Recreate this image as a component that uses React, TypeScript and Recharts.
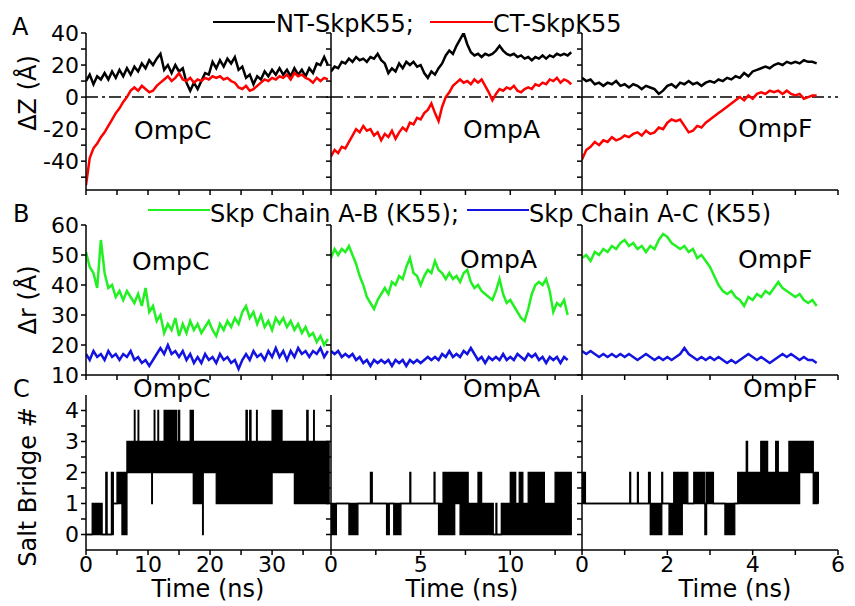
import React from 'react';
import { ComposedChart, Line, Area, XAxis, YAxis, ReferenceLine } from 'recharts';

const FONT = '"DejaVu Sans", Verdana, sans-serif';

// sampling interval (ns) of the traces in each column
const ompcStep = 0.6;
const ompaStep = 0.2;
const ompfStep = 0.1;

// A: dZ (Å)
const ompcNT = [10, 14, 8, 13, 11, 15, 11, 16, 12, 17, 13, 18, 14, 19, 16, 21, 18, 23, 20, 24, 27, 17, 20, 15, 20, 16, 18, 9, 4, 9, 5, 10, 15, 14, 22, 18, 23, 19, 24, 21, 25, 17, 19, 12, 14, 8, 13, 11, 16, 13, 17, 14, 18, 14, 17, 13, 18, 14, 17, 13, 18, 15, 21, 20, 25, 20];
const ompcCT = [-55, -38, -32, -29, -25, -22, -18, -14, -10, -7, -3, 0, 4, 6, 4, 7, 5, 3, 4, 7, 9, 11, 13, 10, 12, 15, 11, 10, 12, 9, 11, 10, 12, 11, 13, 12, 13, 11, 12, 10, 9, 6, 5, 7, 4, 5, 7, 9, 11, 10, 12, 11, 13, 12, 14, 11, 15, 13, 14, 12, 11, 9, 12, 10, 12, 11];
const ompaNT = [16, 19, 18, 22, 21, 24, 22, 25, 23, 24, 22, 25, 24, 27, 23, 21, 15, 18, 16, 21, 18, 22, 20, 22, 19, 20, 15, 12, 16, 14, 18, 21, 26, 29, 27, 32, 36, 40, 33, 28, 26, 27, 25, 27, 26, 27, 29, 32, 29, 27, 26, 27, 25, 26, 24, 25, 23, 25, 24, 26, 24, 26, 25, 27, 26, 27, 26, 28];
const ompaCT = [-37, -33, -35, -31, -32, -28, -24, -20, -22, -18, -21, -20, -24, -22, -27, -23, -25, -21, -26, -22, -19, -21, -16, -17, -13, -14, -10, -8, -4, -10, -15, -6, 0, 3, 7, 9, 11, 9, 10, 8, 11, 9, 11, 7, 3, -2, 2, 5, 4, 6, 5, 7, 4, 3, 5, 6, 5, 8, 7, 9, 8, 11, 10, 12, 9, 11, 10, 8];
const ompfNT = [12, 10, 11, 8, 9, 7, 9, 8, 10, 7, 8, 6, 8, 7, 5, 7, 6, 5, 2, 4, 7, 8, 6, 9, 8, 10, 8, 9, 7, 9, 10, 9, 11, 10, 12, 11, 13, 12, 15, 13, 16, 17, 18, 19, 18, 20, 21, 20, 22, 21, 22, 21, 23, 22, 22, 21];
const ompfCT = [-39, -33, -31, -28, -30, -27, -28, -25, -27, -26, -24, -25, -23, -22, -24, -21, -23, -22, -19, -20, -16, -14, -15, -14, -18, -22, -21, -18, -19, -16, -14, -12, -10, -8, -6, -4, -2, 0, -2, 1, -1, 2, 3, 2, 4, 3, 4, 2, 4, 2, 1, 2, -1, 0, 1, 1];

// B: dr (Å)
const ompcAB = [51, 46, 44, 39, 55, 44, 39, 40, 36, 38, 35, 38, 36, 34, 37, 33, 39, 31, 33, 28, 30, 24, 27, 25, 29, 23, 27, 24, 28, 25, 27, 24, 26, 28, 25, 23, 27, 25, 28, 26, 29, 27, 31, 33, 29, 31, 27, 30, 26, 28, 25, 29, 27, 29, 26, 28, 25, 27, 24, 26, 23, 24, 21, 23, 20, 22];
const ompcAC = [17, 15, 18, 16, 17, 15, 18, 16, 17, 15, 17, 16, 18, 15, 16, 14, 15, 13, 15, 17, 19, 17, 20, 17, 18, 16, 18, 15, 17, 14, 16, 14, 17, 15, 16, 14, 17, 15, 16, 14, 15, 12, 15, 17, 15, 18, 16, 17, 15, 18, 16, 19, 16, 18, 15, 18, 16, 19, 17, 18, 16, 18, 17, 19, 16, 18];
const ompaAB = [49, 52, 50, 52, 51, 53, 50, 47, 43, 40, 36, 34, 32, 35, 37, 39, 37, 41, 40, 43, 42, 46, 49, 44, 43, 40, 43, 45, 44, 48, 45, 44, 42, 44, 42, 43, 41, 44, 45, 41, 39, 40, 38, 37, 36, 35, 38, 42, 37, 34, 35, 33, 31, 29, 28, 32, 37, 40, 41, 40, 42, 38, 31, 34, 33, 35, 30];
const ompaAC = [18, 17, 18, 16, 17, 16, 17, 15, 16, 14, 15, 13, 15, 14, 15, 14, 15, 13, 15, 14, 15, 13, 15, 14, 15, 14, 15, 16, 15, 16, 15, 17, 16, 18, 16, 17, 16, 18, 17, 19, 17, 15, 16, 14, 16, 15, 16, 15, 17, 15, 16, 15, 17, 16, 15, 17, 16, 17, 15, 16, 14, 16, 15, 16, 14, 16, 15];
const ompfAB = [49, 50, 48, 51, 50, 52, 51, 53, 52, 54, 55, 53, 54, 52, 53, 51, 53, 52, 55, 57, 56, 54, 53, 52, 53, 51, 52, 49, 50, 48, 46, 43, 40, 38, 37, 38, 36, 35, 33, 36, 35, 37, 36, 38, 37, 39, 41, 39, 38, 37, 36, 37, 35, 34, 35, 33];
const ompfAC = [18, 17, 18, 17, 16, 17, 16, 17, 16, 17, 16, 17, 16, 15, 16, 17, 16, 15, 16, 15, 16, 15, 16, 17, 19, 17, 16, 15, 16, 15, 16, 15, 16, 15, 14, 15, 14, 15, 16, 17, 16, 15, 16, 15, 14, 15, 16, 17, 16, 17, 16, 15, 16, 15, 15, 14];

// C: salt bridge count, [start time, low, high] of each stretch
const ompcBridge = [
  [0, 0, 0], [1.0, 0, 1], [2.6, 0, 0], [3.2, 0, 2], [3.4, 0, 0], [4.1, 0, 2], [4.4, 1, 1], [5.0, 1, 2],
  [5.8, 0, 2], [6.6, 2, 3], [7.8, 2, 4], [7.9, 2, 3], [8.4, 2, 4], [8.5, 2, 3], [10.6, 1, 3], [10.7, 2, 3],
  [11.0, 2, 4], [11.1, 2, 3], [11.6, 2, 4], [11.7, 2, 3], [12.6, 2, 4], [12.8, 2, 3], [13.0, 2, 4], [13.6, 2, 3],
  [13.8, 2, 4], [14.6, 2, 3], [14.9, 2, 4], [15.1, 2, 3], [16.8, 2, 4], [17.3, 1, 3], [18.8, 0, 3], [18.9, 2, 3],
  [21.0, 1, 3], [25.8, 1, 4], [26.0, 1, 3], [26.4, 1, 4], [26.6, 1, 3], [27.5, 1, 4], [27.6, 1, 3], [30.0, 2, 4],
  [31.6, 2, 3], [33.6, 1, 3], [35.6, 1, 4], [35.8, 1, 3], [36.7, 1, 4], [36.8, 1, 3], [39.2, 1, 1],
];
const ompaBridge = [
  [0, 0, 1], [0.3, 1, 1], [1.0, 0, 1], [1.5, 1, 1], [2.2, 1, 2], [2.3, 1, 1], [3.1, 0, 1], [3.25, 1, 1],
  [3.5, 0, 1], [3.9, 1, 1], [4.4, 1, 2], [4.45, 1, 1], [5.75, 1, 2], [5.8, 1, 1], [6.0, 0, 1], [6.25, 0, 2],
  [6.9, 1, 2], [7.2, 0, 2], [7.65, 0, 1], [8.2, 0, 2], [8.4, 0, 1], [9.05, 0, 0], [9.2, 0, 1], [9.25, 0, 0],
  [9.5, 0, 1], [10.0, 0, 2], [10.3, 0, 1], [10.5, 0, 2], [10.7, 0, 1], [11.0, 0, 2], [11.9, 0, 1], [12.5, 0, 2],
  [13.4, 1, 1],
];
const ompfBridge = [
  [0, 1, 2], [0.08, 1, 1], [1.12, 1, 2], [1.14, 1, 1], [1.3, 1, 2], [1.32, 1, 1], [1.56, 1, 2], [1.6, 0, 1],
  [1.87, 1, 2], [1.89, 1, 1], [2.04, 0, 1], [2.15, 0, 2], [2.35, 1, 2], [2.48, 1, 1], [2.62, 1, 2], [2.88, 0, 1],
  [2.92, 1, 2], [3.08, 1, 1], [3.35, 0, 1], [3.58, 1, 1], [3.65, 1, 2], [3.85, 1, 3], [3.88, 1, 2], [4.19, 1, 3],
  [4.35, 1, 2], [4.54, 1, 3], [4.6, 1, 2], [4.85, 1, 3], [5.1, 2, 3], [5.42, 1, 2], [5.54, 1, 1],
];

// axes
const ompcXTicks = [0, 5, 10, 15, 20, 25, 30, 35];
const ompcXLabels = [0, 10, 20, 30];
const ompaXTicks = [0, 2.5, 5, 7.5, 10, 12.5];
const ompaXLabels = [0, 5, 10];
const ompfXTicks = [0, 1, 2, 3, 4, 5, 6];
const ompfXLabels = [0, 2, 4, 6];
const dzTicks = [-50, -40, -30, -20, -10, 0, 10, 20, 30, 40];
const dzLabels = [-40, -20, 0, 20, 40];
const drTicks = [10, 20, 30, 40, 50, 60];
const sbTicks = [0, 0.5, 1, 1.5, 2, 2.5, 3, 3.5, 4];
const sbLabels = [0, 1, 2, 3, 4];

const pair = (step: number, a: number[], b: number[]) =>
  a.map((v, i) => ({ t: +(i * step).toFixed(2), a: v, b: b[i] }));
const steps = (seg: number[][]) => seg.map(([t, lo, hi]) => ({ t, r: [lo, hi] }));
const only = (list: number[]) => (v: number) => (list.includes(v) ? String(v) : '');
const none = () => '';

const COLS = [
  { x0: 86, x1: 331, dom: [0, 39.5], ticks: ompcXTicks, labels: ompcXLabels },
  { x0: 331, x1: 582, dom: [0, 14], ticks: ompaXTicks, labels: ompaXLabels },
  { x0: 582, x1: 838, dom: [0, 6], ticks: ompfXTicks, labels: ompfXLabels },
];
const ROWS = {
  A: { y0: 33, y1: 190, dom: [-58, 40], ticks: dzTicks, labels: dzLabels },
  B: { y0: 225, y1: 375, dom: [10, 60], ticks: drTicks, labels: drTicks },
  C: { y0: 395, y1: 550, dom: [-0.5, 4.5], ticks: sbTicks, labels: sbLabels },
};

const YW = 70;
const TOP = 20;
const XH = 40;
const RIGHT = 12;
const axisLine = { stroke: '#000', strokeWidth: 1.5 };

function Panel(props: any) {
  const { col, row, data, xText, children } = props;
  const c = COLS[col];
  const r = (ROWS as any)[row];
  const w = c.x1 - c.x0 + YW + RIGHT;
  const h = r.y1 - r.y0 + TOP + XH;
  return (
    <div style={{ position: 'absolute', left: c.x0 - YW, top: r.y0 - TOP }}>
      <ComposedChart width={w} height={h} data={data} margin={{ top: TOP, right: RIGHT, bottom: 0, left: 0 }}>
        <XAxis
          dataKey="t"
          type="number"
          domain={c.dom}
          ticks={c.ticks}
          interval={0}
          allowDataOverflow
          height={XH}
          tickFormatter={xText ? only(c.labels) : none}
          axisLine={axisLine}
          tickLine={axisLine}
          tickSize={5}
          tickMargin={1}
          tick={{ fill: '#000', fontSize: 22, fontFamily: FONT }}
        />
        <YAxis
          type="number"
          domain={r.dom}
          ticks={r.ticks}
          interval={0}
          allowDataOverflow
          width={YW}
          tickFormatter={col === 0 ? only(r.labels) : none}
          axisLine={axisLine}
          tickLine={axisLine}
          tickSize={5}
          tickMargin={2}
          tick={{ fill: '#000', fontSize: 22, fontFamily: FONT }}
        />
        {children}
      </ComposedChart>
    </div>
  );
}

const zLines = (col: number, data: any[]) => (
  <Panel col={col} row="A" data={data}>
    <ReferenceLine y={0} stroke="#000" strokeWidth={1.5} strokeDasharray="12 4 3 4" />
    <Line dataKey="a" stroke="#000" strokeWidth={2.5} dot={false} isAnimationActive={false} />
    <Line dataKey="b" stroke="#ff0000" strokeWidth={2.5} dot={false} isAnimationActive={false} />
  </Panel>
);

const rLines = (col: number, data: any[]) => (
  <Panel col={col} row="B" data={data}>
    <Line dataKey="a" stroke="#22f022" strokeWidth={2.5} dot={false} isAnimationActive={false} />
    <Line dataKey="b" stroke="#1414e0" strokeWidth={2.5} dot={false} isAnimationActive={false} />
  </Panel>
);

const bridge = (col: number, data: any[]) => (
  <Panel col={col} row="C" data={data} xText>
    <Area
      dataKey="r"
      type="stepAfter"
      stroke="#000"
      strokeWidth={1.3}
      fill="#000"
      fillOpacity={1}
      dot={false}
      activeDot={false}
      isAnimationActive={false}
    />
  </Panel>
);

const T = (props: any) => <text fontSize={25} {...props} />;

export default function App() {
  return (
    <div style={{ position: 'absolute', left: 0, top: 0, width: 855, height: 606, overflow: 'hidden', background: '#fff' }}>
      {zLines(0, pair(ompcStep, ompcNT, ompcCT))}
      {zLines(1, pair(ompaStep, ompaNT, ompaCT))}
      {zLines(2, pair(ompfStep, ompfNT, ompfCT))}
      {rLines(0, pair(ompcStep, ompcAB, ompcAC))}
      {rLines(1, pair(ompaStep, ompaAB, ompaAC))}
      {rLines(2, pair(ompfStep, ompfAB, ompfAC))}
      {bridge(0, steps(ompcBridge))}
      {bridge(1, steps(ompaBridge))}
      {bridge(2, steps(ompfBridge))}
      <svg width={855} height={606} style={{ position: 'absolute', left: 0, top: 0, pointerEvents: 'none' }} fontFamily={FONT} fill="#000">
        <T x={12} y={35} fontSize={24}>A</T>
        <line x1={213} y1={22} x2={275} y2={22} stroke="#000" strokeWidth={2} />
        <T x={276} y={32} fontSize={24}>NT-SkpK55;</T>
        <line x1={430} y1={22} x2={493} y2={22} stroke="#ff0000" strokeWidth={2} />
        <T x={493} y={32} fontSize={24}>CT-SkpK55</T>
        <T x={13} y={222} fontSize={24}>B</T>
        <line x1={148} y1={210} x2={210} y2={210} stroke="#22f022" strokeWidth={2} />
        <T x={210} y={222} fontSize={24}>Skp Chain A-B (K55);</T>
        <line x1={467} y1={210} x2={529} y2={210} stroke="#1414e0" strokeWidth={2} />
        <T x={529} y={222} fontSize={24}>Skp Chain A-C (K55)</T>
        <T x={13} y={397} fontSize={24}>C</T>

        <T x={134} y={139}>OmpC</T>
        <T x={463} y={138}>OmpA</T>
        <T x={738} y={137}>OmpF</T>
        <T x={132} y={270}>OmpC</T>
        <T x={460} y={268}>OmpA</T>
        <T x={738} y={268}>OmpF</T>
        <T x={133} y={397}>OmpC</T>
        <T x={463} y={397}>OmpA</T>
        <T x={743} y={397}>OmpF</T>

        <T transform="translate(36,93) rotate(-90)" textAnchor="middle" fontSize={24}>ΔZ (Å)</T>
        <T transform="translate(36,300) rotate(-90)" textAnchor="middle" fontSize={24}>Δr (Å)</T>
        <T transform="translate(36,487) rotate(-90)" textAnchor="middle" fontSize={24}>Salt Bridge #</T>

        <T x={208} y={597} textAnchor="middle" fontSize={24}>Time (ns)</T>
        <T x={462} y={597} textAnchor="middle" fontSize={24}>Time (ns)</T>
        <T x={735} y={597} textAnchor="middle" fontSize={24}>Time (ns)</T>
      </svg>
    </div>
  );
}
